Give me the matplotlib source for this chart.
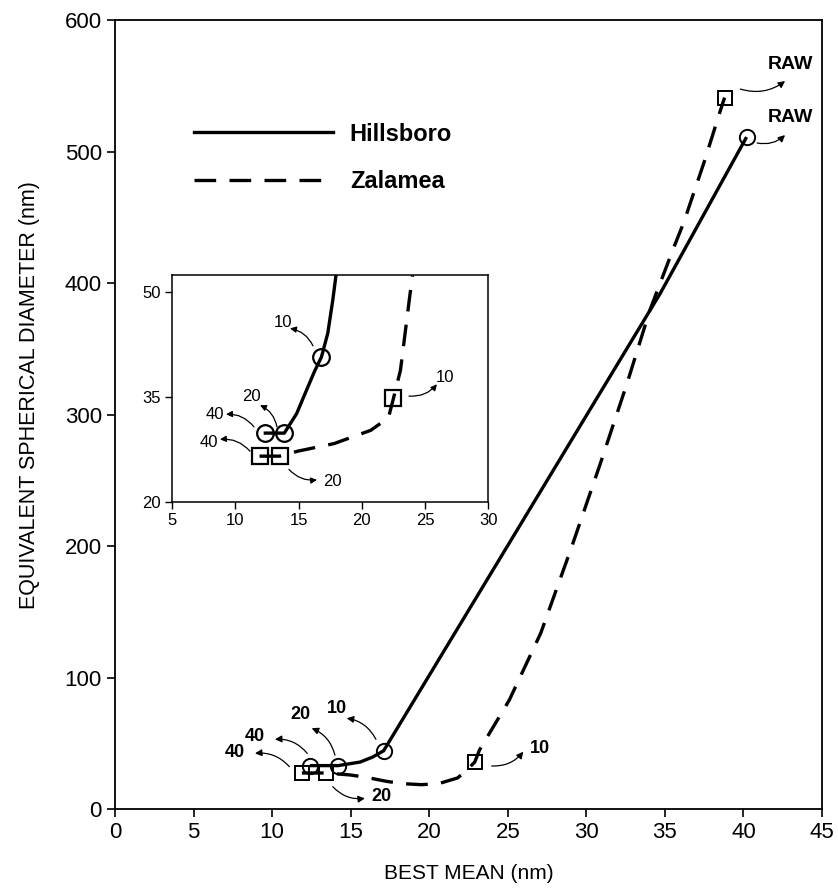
import matplotlib
matplotlib.use('Agg')
import matplotlib.pyplot as plt
from matplotlib.lines import Line2D

plt.rcParams['font.family'] = ['Liberation Sans', 'DejaVu Sans']

# measured points (main panel), order: 40, 20, 10, RAW
hills_x = [12.4, 14.2, 17.1, 40.2]
hills_y = [33.0, 33.0, 44.3, 511.0]
zal_x = [11.9, 13.4, 22.9, 38.8]
zal_y = [27.4, 27.4, 35.7, 541.0]

# fitted curves as drawn in the main panel
hills_curve_x = [12.4, 14.2, 15.6, 16.4, 17.1, 34.7, 40.2]
hills_curve_y = [33.0, 33.0, 35.7, 39.5, 44.3, 392.0, 511.0]
zal_curve_x = [11.9, 13.4, 14.96, 15.9, 17.3, 18.3, 19.5, 20.6, 21.8, 22.2, 22.9,
               23.2, 25.1, 27.1, 29.0, 30.9, 32.6, 34.05, 35.5, 36.2, 37.5, 38.5, 38.8]
zal_curve_y = [27.4, 27.4, 25.9, 24.3, 21.0, 19.3, 18.5, 19.3, 23.6, 27.4, 35.7,
               44.9, 82.9, 133.8, 197.0, 263.0, 324.0, 379.5, 425.0, 446.0, 492.0, 530.0, 541.0]

# inset (zoomed) points, order: 40, 20, 10
in_hills_x = [12.36, 13.86, 16.8]
in_hills_y = [29.8, 29.8, 40.7]
in_zal_x = [11.9, 13.5, 22.5]
in_zal_y = [26.5, 26.5, 34.8]
in_hills_curve_x = [12.36, 13.86, 14.84, 15.63, 16.29, 16.8, 17.3, 17.7, 17.95]
in_hills_curve_y = [29.8, 29.8, 32.6, 36.0, 38.8, 40.7, 44.1, 48.9, 52.4]
in_zal_curve_x = [11.9, 13.5, 14.9, 17.8, 20.7, 22.1, 22.5, 23.05, 23.75, 24.0]
in_zal_curve_y = [26.5, 26.5, 27.2, 28.3, 30.2, 32.0, 34.8, 38.8, 48.9, 52.4]

# label, text position, arrow tail, arrow head
main_notes = [
    ('RAW', (42.97, 566), (39.8, 547.5), (42.65, 553.6)),
    ('RAW', (42.97, 526), (40.87, 506.5), (42.65, 512.5)),
    ('10', (14.11, 76.6), (16.61, 53.0), (14.75, 69.0)),
    ('20', (11.78, 71.5), (14.0, 41.0), (12.52, 61.4)),
    ('40', (8.91, 55.0), (12.24, 42.3), (10.18, 53.0)),
    ('40', (7.64, 42.8), (11.1, 32.2), (8.91, 42.3)),
    ('20', (16.97, 9.4), (13.86, 17.0), (15.91, 8.1)),
    ('10', (27.05, 46.2), (23.98, 32.7), (25.99, 43.6)),
]
inset_notes = [
    ('10', (13.76, 45.7), (16.13, 42.3), (14.31, 44.8)),
    ('20', (11.3, 35.0), (13.28, 30.7), (11.94, 33.8)),
    ('40', (8.38, 32.4), (11.46, 30.7), (9.25, 32.5)),
    ('40', (7.9, 28.5), (11.15, 27.2), (8.77, 28.9)),
    ('20', (17.63, 22.8), (14.23, 24.6), (16.45, 23.1)),
    ('10', (26.57, 37.8), (23.73, 35.1), (25.94, 36.8)),
]

dash = (0, (6.5, 4.0))

fig = plt.figure(figsize=(8.38, 8.9), dpi=100)
ax = fig.add_axes([0.1372, 0.0910, 0.8437, 0.8865])

ax.plot(hills_curve_x, hills_curve_y, color='black', lw=2.4, solid_capstyle='butt')
ax.plot(zal_curve_x, zal_curve_y, color='black', lw=2.4, linestyle=dash)
ax.plot(hills_x, hills_y, 'o', ms=11, mfc='none', mec='black', mew=1.4)
ax.plot(zal_x, zal_y, 's', ms=10, mfc='none', mec='black', mew=1.4)

for label, txt, tail, head in main_notes:
    ax.annotate('', xy=head, xytext=tail,
                arrowprops=dict(arrowstyle='-|>', color='black', lw=0.9,
                                mutation_scale=10, shrinkA=0, shrinkB=0,
                                connectionstyle='arc3,rad=0.25'))
    ax.text(txt[0], txt[1], label, ha='center', va='center',
            fontsize=14 if label == 'RAW' else 13, fontweight='bold')

ax.set_xlim(0, 45)
ax.set_ylim(0, 600)
ax.set_xticks(range(0, 46, 5))
ax.set_yticks(range(0, 601, 100))
ax.tick_params(labelsize=16, length=6, width=1.2, direction='out')
for s in ax.spines.values():
    s.set_linewidth(1.3)
ax.set_xlabel('BEST MEAN (nm)', fontsize=15, labelpad=15)
ax.set_ylabel('EQUIVALENT SPHERICAL DIAMETER (nm)', fontsize=15.5)
ax.yaxis.set_label_coords(-0.106, 0.525)

handles = [Line2D([], [], color='black', lw=2.4),
           Line2D([], [], color='black', lw=2.4, linestyle=dash)]
ax.legend(handles, ['Hillsboro', 'Zalamea'], loc='upper left',
          bbox_to_anchor=(0.1117, 0.870), frameon=False, borderpad=0,
          borderaxespad=0, handlelength=5.9, handletextpad=0.7,
          labelspacing=1.03, prop={'size': 17, 'weight': 'bold'})

# inset
ins = fig.add_axes([0.2056, 0.4365, 0.3771, 0.2545])
ins.plot(in_hills_curve_x, in_hills_curve_y, color='black', lw=2.4)
ins.plot(in_zal_curve_x, in_zal_curve_y, color='black', lw=2.4, linestyle=dash)
ins.plot(in_hills_x, in_hills_y, 'o', ms=12, mfc='none', mec='black', mew=1.6)
ins.plot(in_zal_x, in_zal_y, 's', ms=11, mfc='none', mec='black', mew=1.6)
for label, txt, tail, head in inset_notes:
    ins.annotate('', xy=head, xytext=tail,
                 arrowprops=dict(arrowstyle='-|>', color='black', lw=0.9,
                                 mutation_scale=9, shrinkA=0, shrinkB=0,
                                 connectionstyle='arc3,rad=0.25'))
    ins.text(txt[0], txt[1], label, ha='center', va='center', fontsize=12)
ins.set_xlim(5, 30)
ins.set_ylim(20, 52.45)
ins.set_xticks(range(5, 31, 5))
ins.set_yticks([20, 35, 50])
ins.tick_params(labelsize=12, length=5, width=1.0, direction='out')
for s in ins.spines.values():
    s.set_linewidth(1.1)

fig.savefig('out.png', dpi=100)
